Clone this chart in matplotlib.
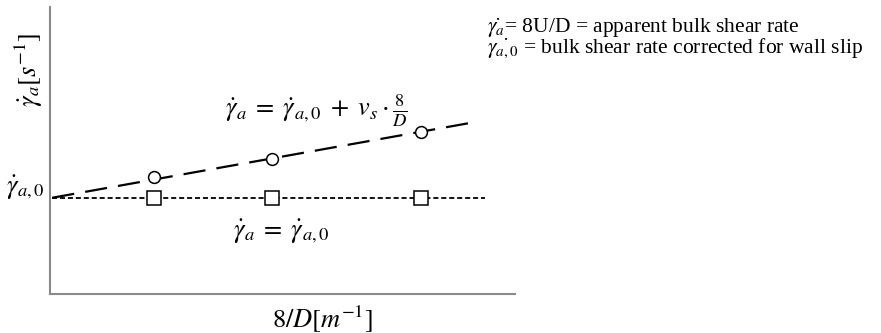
import matplotlib
matplotlib.use("Agg")
import matplotlib.pyplot as plt
import numpy as np

plt.rcParams['mathtext.fontset'] = 'stix'
plt.rcParams['font.family'] = ['Liberation Serif', 'DejaVu Serif']

# data (arbitrary units)
inv_d = [2.24, 4.77, 7.98]                 # 8/D positions of measurements
gamma_slip = [4.08, 4.70, 5.64]            # apparent shear rate with wall slip (circles)
gamma_noslip = [3.34, 3.34, 3.34]          # no wall slip (squares)
gamma_a0 = 3.34                            # intercept
slip_slope = 0.29                          # v_s
line_x_end = 9.14
noslip_x_end = 9.35

notes = [r'$\dot{\gamma_a}$= 8U/D = apparent bulk shear rate',
         r'$\dot{\gamma_{a,0}}$ = bulk shear rate corrected for wall slip']

fig = plt.figure(figsize=(8.81, 3.33), dpi=100)
ax = fig.add_axes([50/881, 39/333, 465/881, 287/333])
ax.set_xlim(0, 10)
ax.set_ylim(0, 10)

for s in ['top', 'right']:
    ax.spines[s].set_visible(False)
for s in ['left', 'bottom']:
    ax.spines[s].set_color('#8a8a8a')
    ax.spines[s].set_linewidth(1.5)

xs = np.array([0.05, line_x_end])
ax.plot(xs, gamma_a0 + slip_slope * xs, color='black', lw=1.6,
        dashes=(10, 5), zorder=2)
ax.plot([0.05, noslip_x_end], [gamma_a0, gamma_a0], color='black', lw=1.3,
        dashes=(2.8, 1.6), zorder=2)
ax.plot(inv_d, gamma_slip, linestyle='none', marker='o', ms=8.5,
        mfc='white', mec='black', mew=1.1, zorder=3)
ax.plot(inv_d, gamma_noslip, linestyle='none', marker='s', ms=10,
        mfc='white', mec='black', mew=1.1, zorder=3)

ax.set_xticks([])
ax.set_yticks([])
ax.annotate(r'$\dot{\gamma}_{a,0}$', xy=(0, gamma_a0), xytext=(-4, 4),
            textcoords='offset points', ha='right', va='baseline',
            fontsize=19, annotation_clip=False)

ax.text(-0.045, 0.78, r'$\dot{\gamma}_a[s^{-1}]$', transform=ax.transAxes,
        rotation=90, ha='center', va='center', fontsize=19)
ax.text(0.585, -0.085, r'$8/D[m^{-1}]$', transform=ax.transAxes,
        ha='center', va='center', fontsize=19)

ax.text(5.74, 6.41, r'$\dot{\gamma}_a\;=\;\dot{\gamma}_{a,0}\;+\;v_s\cdot\frac{8}{D}$',
        ha='center', va='center', fontsize=19)
ax.text(4.97, 2.2, r'$\dot{\gamma}_a\;=\;\dot{\gamma}_{a,0}$',
        ha='center', va='center', fontsize=19)

fig.text(487/881, 1 - 16/333, '\n'.join(notes),
         ha='left', va='top', fontsize=15.5, linespacing=0.78)

fig.savefig('out.png', dpi=100)
